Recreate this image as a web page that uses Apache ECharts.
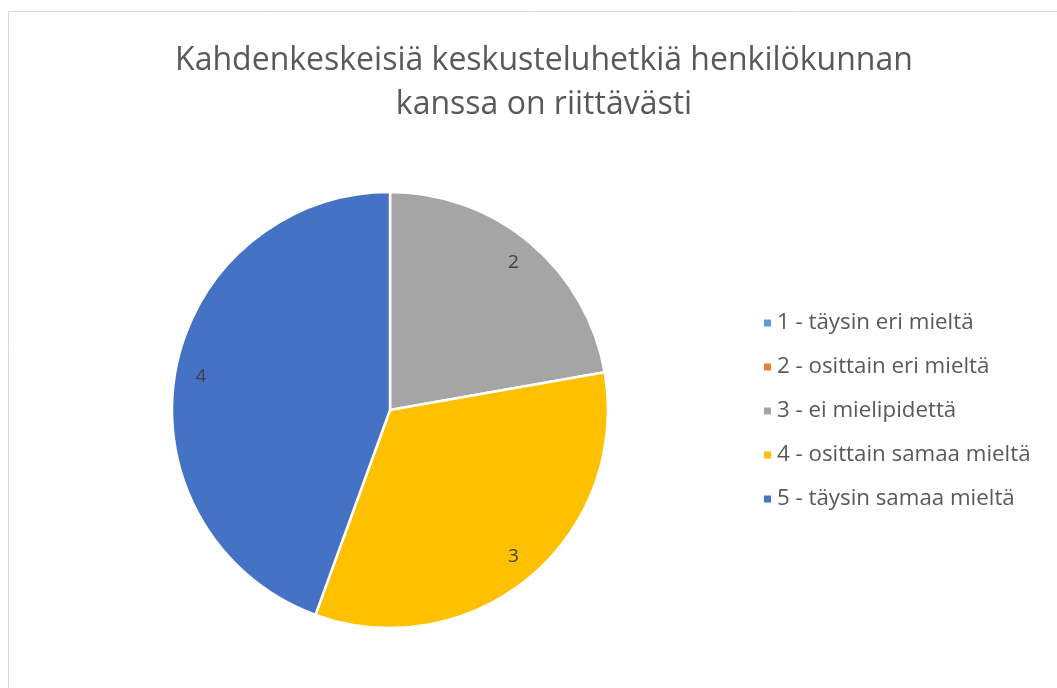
<!DOCTYPE html>
<html><head><meta charset="utf-8">
<script src="https://cdn.jsdelivr.net/npm/echarts@6/dist/echarts.min.js"></script>
<style>html,body{margin:0;padding:0;background:#fff}#c{width:1057px;height:688px}</style>
</head><body><div id="c"></div>
<script>
const titleText = 'Kahdenkeskeisiä keskusteluhetkiä henkilökunnan\nkanssa on riittävästi';
const categories = ['1 - täysin eri mieltä','2 - osittain eri mieltä','3 - ei mielipidettä','4 - osittain samaa mieltä','5 - täysin samaa mieltä'];
const values = [0, 0, 2, 3, 4];
const colors = ['#5B9BD5','#ED7D31','#A5A5A5','#FFC000','#4472C4'];

const data = categories.map((c,i)=>({name:c, value:values[i], itemStyle:{color:colors[i]}}));
const chart = echarts.init(document.getElementById('c'));
const center = [390, 410];
chart.setOption({
  animation:false,
  title:{text:titleText, left:539, textAlign:'center', top:34,
    textStyle:{fontFamily:'Open Sans', fontSize:32, fontWeight:'normal', color:'#595959', lineHeight:44}},
  graphic:[{type:'rect', shape:{x:8.5,y:11.5,width:1100,height:700}, style:{fill:'none', stroke:'#d9d9d9', lineWidth:1}, silent:true}],
  legend:{orient:'vertical', left:757, top:306, itemWidth:9, itemHeight:9, itemGap:20, icon:'rect',
    data:categories,
    textStyle:{fontFamily:'Open Sans', fontSize:22.3, color:'#595959', lineHeight:24, padding:[0,0,0,0]}},
  series:[
    {type:'pie', center:center, radius:[0,218], startAngle:90, clockwise:true,
     data:data, label:{show:false}, labelLine:{show:false},
     itemStyle:{borderColor:'#fff', borderWidth:2.5}, emphasis:{disabled:true}},
    {type:'pie', center:center, radius:[160,218], startAngle:90, clockwise:true, silent:true,
     legendHoverLink:false,
     data:categories.map((c,i)=>({name:c, value:values[i], itemStyle:{color:'rgba(0,0,0,0)'}})),
     label:{show:true, position:'inside', formatter:p=>p.value>0?String(p.value):'', fontFamily:'Open Sans', fontSize:19, color:'#404040'},
     labelLine:{show:false}, emphasis:{disabled:true}}
  ]
});
</script></body></html>
